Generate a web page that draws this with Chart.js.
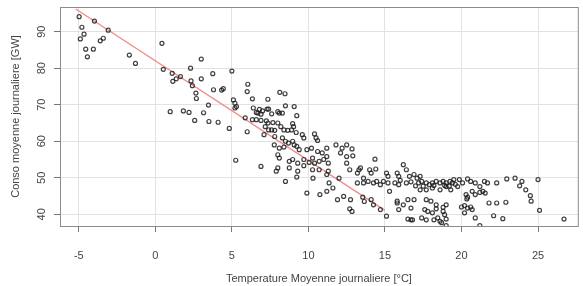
<!DOCTYPE html>
<html lang="fr">
<head>
    <meta charset="UTF-8">
    <title>Conso vs Temperature</title>
    <script src="https://cdn.jsdelivr.net/npm/chart.js"></script>
    <style>
        body {
            margin: 0;
            background-color: white;
        }
        #chartContainer {
            width: 583px;
            height: 286px;
        }
    </style>
</head>
<body>

    <div id="chartContainer">
        <canvas id="consoChart"></canvas>
    </div>

    <script>
        // Daily mean temperature [°C] and daily mean consumption [GW]
        const temps = [
            -4.98, -3.98, -3.08, -4.8, -4.66, -4.9, -3.4, -3.6, -4.55, -4.05, -4.44, -1.7, -1.3, 0.43, 0.52,
            1.1, 1.36, 1.14, 1.64, 2.3, 3.0, 2.33, 2.42, 3.0, 3.75, 5.0, 2.65, 2.68, 3.8, 4.33, 4.44, 3.47,
            5.1, 5.2, 5.3, 5.2, 6.04, 6.0, 6.34, 6.4, 6.6, 0.97, 1.83, 2.2, 3.15, 2.57, 3.5, 4.1, 4.83, 5.87,
            6.0, 6.34, 6.6, 5.25,
            8.13, 8.47, 7.35, 6.8, 7.0, 7.3, 7.4, 6.7, 6.9, 7.6, 8.0, 8.1, 8.3, 8.5, 9.07, 9.24, 6.9, 7.25,
            7.36, 7.68, 7.18, 7.4, 7.6, 7.8, 8.0, 8.2, 8.4, 8.65, 8.9, 8.97, 9.03, 9.2, 9.6, 9.7, 10.4, 10.5,
            10.6, 7.1, 7.8, 8.3, 8.5, 8.7, 8.97, 9.07, 9.24, 9.4, 7.77, 8.1, 8.4, 9.9, 10.2, 10.6, 10.9, 11.2,
            11.2, 8.0, 8.1, 8.75, 8.97, 9.3, 9.7, 10.05, 10.27, 10.4, 10.7, 11.0, 11.3, 6.9, 8.0, 7.9, 8.75,
            9.3, 9.7, 10.27, 10.7, 11.3, 11.2, 9.24, 10.3, 8.5, 9.9, 10.75, 11.2, 11.6,
            11.8, 12.1, 12.2, 12.5, 12.5, 12.85, 12.9, 12.5, 12.7, 13.2, 13.3, 13.4, 14.0, 14.1, 14.4, 14.35,
            13.6, 13.9, 14.25, 14.46, 14.7, 14.9, 15.1, 15.2, 12.0, 13.2, 13.6, 15.8, 15.9, 16.2, 16.4, 16.6,
            16.9, 15.2, 15.3, 15.65, 15.9, 11.35, 12.3, 12.75, 13.55, 13.65, 14.1, 14.25, 14.7, 15.1, 11.9,
            12.7, 12.85, 15.8, 15.9, 16.2, 16.5, 16.9, 16.5, 16.7,
            17.3, 17.1, 16.4, 17.2, 17.4, 17.7, 17.9, 18.1, 18.35, 18.6, 18.8, 19.0, 19.25, 19.4, 19.5, 17.3,
            17.7, 18.1, 18.6, 19.0, 19.3, 19.75, 19.86, 20.07, 20.4, 20.6, 20.9, 21.2, 21.5, 21.7, 22.3, 22.96,
            23.5, 23.95, 23.8, 24.2, 25.0, 24.5, 24.55, 25.1, 26.7, 20.3, 20.4, 20.35, 20.7, 20.9, 21.2, 21.4,
            21.55, 21.8, 22.3, 22.9, 20.0, 20.2, 20.4, 20.6, 20.7, 20.2, 20.9, 21.2, 22.1, 22.7, 17.7, 18.0,
            18.35, 18.8, 19.0, 17.6, 17.8, 18.35, 18.1, 18.8, 18.9, 16.8, 17.4, 17.7, 18.2, 18.6, 18.7, 19.0,
            19.0, 18.45, 16.7, 15.8, 16.0, 16.7, 17.0, 17.5, 18.2, 18.9, 19.6, 19.2
        ];
        const conso = [
            94.1, 92.9, 90.4, 91.2, 89.3, 88.0, 88.2, 87.5, 85.2, 85.2, 83.1, 83.6, 81.3, 86.8, 79.7,
            78.6, 77.1, 76.4, 77.7, 80.0, 82.5, 76.5, 75.2, 77.1, 78.5, 79.2, 73.2, 71.7, 74.1, 74.0, 74.4, 69.9,
            71.3, 70.4, 69.5, 69.1, 75.6, 73.6, 71.6, 69.1, 67.9, 68.1, 68.3, 67.9, 67.8, 65.7, 65.4, 65.2, 63.5, 66.4,
            62.6, 65.9, 65.9, 54.8,
            73.4, 73.0, 71.5, 68.7, 68.3, 68.8, 68.8, 67.7, 67.4, 67.5, 68.1, 67.7, 67.7, 69.7, 69.5, 67.0, 65.7, 65.6,
            65.0, 65.1, 64.0, 63.1, 63.1, 63.0, 65.0, 64.0, 63.1, 63.0, 63.1, 64.8, 64.0, 62.4, 61.8, 60.9, 62.0, 60.9,
            60.2, 61.8, 61.3, 60.9, 60.0, 59.5, 60.0, 59.0, 58.6, 57.7, 59.0, 58.1, 58.4, 57.7, 58.1, 57.2, 56.8, 58.1,
            55.8, 56.3, 55.4, 54.5, 55.0, 54.0, 55.0, 54.2, 55.4, 54.0, 54.5, 55.0, 54.0, 53.1, 52.7, 51.8, 52.7,
            51.8, 53.3, 52.2, 52.2, 51.8, 50.9, 50.2, 49.9, 49.0, 45.8, 45.4, 46.3, 47.2,
            59.0, 56.8, 58.1, 59.0, 55.8, 57.9, 56.0, 54.0, 52.2, 51.3, 52.2, 52.7, 52.2, 51.3, 52.4, 55.1,
            49.9, 49.0, 48.6, 49.0, 48.1, 49.0, 51.3, 50.4, 49.9, 48.6, 48.6, 51.3, 50.4, 53.6, 52.2, 50.4,
            50.9, 48.6, 46.3, 48.6, 48.1, 48.6, 44.9, 44.0, 44.7, 43.5, 44.0, 42.6, 41.3, 39.5, 44.0,
            41.5, 40.8, 43.1, 41.3, 42.6, 44.0, 44.0, 38.7, 38.5,
            50.4, 49.9, 48.6, 48.6, 49.0, 48.6, 48.1, 48.6, 49.0, 48.6, 49.0, 48.6, 49.0, 48.6, 49.5, 46.7,
            46.7, 47.2, 46.7, 47.6, 46.7, 47.6, 49.5, 48.6, 49.7, 49.0, 48.6, 47.6, 49.0, 48.6, 48.6, 49.7,
            49.9, 49.0, 47.8, 46.7, 49.5, 45.1, 43.6, 41.1, 38.7, 45.4, 44.7, 44.2, 46.3, 45.4, 46.0, 46.3,
            45.8, 43.1, 43.1, 43.3, 42.0, 42.4, 41.7, 42.0, 41.3, 40.4, 39.0, 36.9, 39.6, 38.8, 44.0, 43.6,
            42.6, 41.9, 42.6, 41.3, 40.8, 41.5, 40.4, 40.8, 39.9, 38.5, 39.0, 38.5, 38.5, 38.1, 37.7, 38.7,
            36.9, 39.0, 41.7, 43.6, 49.3, 48.9, 47.8, 47.7, 47.9, 47.9, 48.2, 47.7
        ];

        // Fitted regression line end points
        const fitTemps = [-5.2, 15.0];
        const fitConso = [96.2, 41.1];

        // Tick labels
        const xTicks = [-5, 0, 5, 10, 15, 20, 25];
        const yTicks = [40, 50, 60, 70, 80, 90];

        const font = { family: 'Liberation Sans, Arial, sans-serif', size: 11 };
        const textColor = '#444';

        // Box around the plot + vertical y tick labels (R style)
        const rStyle = {
            id: 'rStyle',
            afterDraw(chart) {
                const ctx = chart.ctx;
                const area = chart.chartArea;
                const y = chart.scales.y;
                ctx.save();
                ctx.strokeStyle = '#8c8c8c';
                ctx.lineWidth = 1;
                ctx.strokeRect(area.left + 0.5, area.top + 0.5, area.right - area.left, area.bottom - area.top);
                ctx.fillStyle = textColor;
                ctx.font = font.size + 'px ' + font.family;
                ctx.textAlign = 'center';
                ctx.textBaseline = 'middle';
                yTicks.forEach(v => {
                    ctx.save();
                    ctx.translate(42, y.getPixelForValue(v));
                    ctx.rotate(-Math.PI / 2);
                    ctx.fillText(String(v), 0, 0);
                    ctx.restore();
                });
                ctx.restore();
            }
        };

        const ctx = document.getElementById('consoChart').getContext('2d');
        const consoChart = new Chart(ctx, {
            data: {
                datasets: [{
                    type: 'scatter',
                    data: temps.map((t, i) => ({ x: t, y: conso[i] })),
                    pointRadius: 2,
                    pointBorderWidth: 1.2,
                    borderColor: 'rgba(30,30,30,0.85)',
                    backgroundColor: 'rgba(0,0,0,0)'
                }, {
                    type: 'line',
                    data: fitTemps.map((t, i) => ({ x: t, y: fitConso[i] })),
                    borderColor: 'rgba(238,120,120,0.85)',
                    borderWidth: 1.4,
                    pointRadius: 0
                }]
            },
            options: {
                responsive: true,
                maintainAspectRatio: false,
                animation: false,
                layout: { padding: { top: 7, right: 0, left: 0, bottom: 0 } },
                plugins: {
                    legend: { display: false },
                    tooltip: { enabled: false }
                },
                scales: {
                    x: {
                        type: 'linear',
                        min: -6.23,
                        max: 27.6,
                        afterBuildTicks: s => { s.ticks = xTicks.map(v => ({ value: v })); },
                        afterFit: s => { s.height = 60; },
                        grid: { color: '#e2e2e2', tickColor: '#777', tickLength: 6 },
                        border: { display: false },
                        ticks: { color: textColor, font: font, padding: 17, maxRotation: 0 },
                        title: {
                            display: true,
                            text: 'Temperature Moyenne journaliere [°C]',
                            color: textColor,
                            font: font,
                            padding: { top: 0, bottom: 0 }
                        }
                    },
                    y: {
                        min: 36.8,
                        max: 96.75,
                        afterBuildTicks: s => { s.ticks = yTicks.map(v => ({ value: v })); },
                        afterFit: s => { s.width = 60; },
                        grid: { color: '#e2e2e2', tickColor: '#777', tickLength: 6 },
                        border: { display: false },
                        ticks: { display: false },
                        title: {
                            display: true,
                            text: 'Conso moyenne journaliere [GW]',
                            color: textColor,
                            font: font,
                            padding: { top: 9, bottom: 0 }
                        }
                    }
                }
            },
            plugins: [rStyle]
        });
    </script>

</body>
</html>
